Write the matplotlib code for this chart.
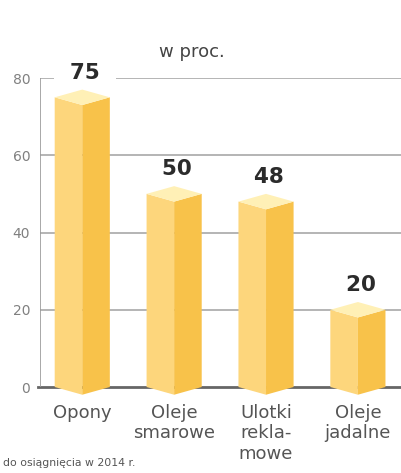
import matplotlib.pyplot as plt
from matplotlib.patches import Polygon

# dane
kategorie = ["Opony", "Oleje\nsmarowe", "Ulotki\nrekla-\nmowe", "Oleje\njadalne"]
wartosci = [75, 50, 48, 20]
yticks = [0, 20, 40, 60, 80]

# kolory ścian słupków
kolor_lewy = "#fdd67c"
kolor_prawy = "#f8c24a"
kolor_gora = "#fff0b6"
kolor_tekstu = "#2b2b2b"

fig = plt.figure(figsize=(4.02, 4.73), dpi=100)
ax = fig.add_axes([40 / 402, 1 - 387 / 473, 362 / 402, 309 / 473])
ax.set_xlim(-0.46, 3.48)
ax.set_ylim(0, 80)

for s in ax.spines.values():
    s.set_visible(False)

# linie siatki
for t in yticks[1:]:
    ax.axhline(t, color="#a0a0a0", lw=1.1, zorder=1)
ax.axhline(0, xmin=-0.006, color="#666666", lw=2, zorder=1, clip_on=False)
ax.axvline(-0.46, ymin=0, ymax=1, color="#9a9a9a", lw=1.2, zorder=1)

ax.set_yticks(yticks)
ax.set_yticklabels([str(t) for t in yticks], color="#808080", fontsize=10)
ax.tick_params(axis="y", length=0, pad=7)

# słupki 3D
w = 0.3   # pół szerokości
d = 2.0   # głębokość romba
for i, v in enumerate(wartosci):
    lewa = [(i - w, v), (i, v - d), (i, -d), (i - w, 0)]
    prawa = [(i, v - d), (i + w, v), (i + w, 0), (i, -d)]
    gora = [(i - w, v), (i, v - d), (i + w, v), (i, v + d)]
    ax.add_patch(Polygon(lewa, closed=True, fc=kolor_lewy, ec="none", zorder=3, clip_on=False))
    ax.add_patch(Polygon(prawa, closed=True, fc=kolor_prawy, ec="none", zorder=3, clip_on=False))
    ax.add_patch(Polygon(gora, closed=True, fc=kolor_gora, ec="none", zorder=3, clip_on=False))
    ax.text(i + 0.03, v + d + 1.8, "  " + str(v) + "  ", ha="center", va="bottom", fontsize=15.5,
            fontweight="bold", color=kolor_tekstu, zorder=4, clip_on=False,
            bbox=dict(boxstyle="square,pad=0.05", fc="white", ec="none"))

ax.set_xticks(range(len(kategorie)))
ax.set_xticklabels(kategorie, fontsize=13, color="#555555", linespacing=1.2)
ax.tick_params(axis="x", length=0, pad=12)

fig.text(192 / 402, 1 - 52 / 473, "w proc.", ha="center", va="center",
         fontsize=13, color="#444444")
fig.text(3 / 402, 1 - 463 / 473, "do osiągnięcia w 2014 r.", ha="left", va="center",
         fontsize=7.8, color="#555555")

fig.savefig("out.png", dpi=100)
